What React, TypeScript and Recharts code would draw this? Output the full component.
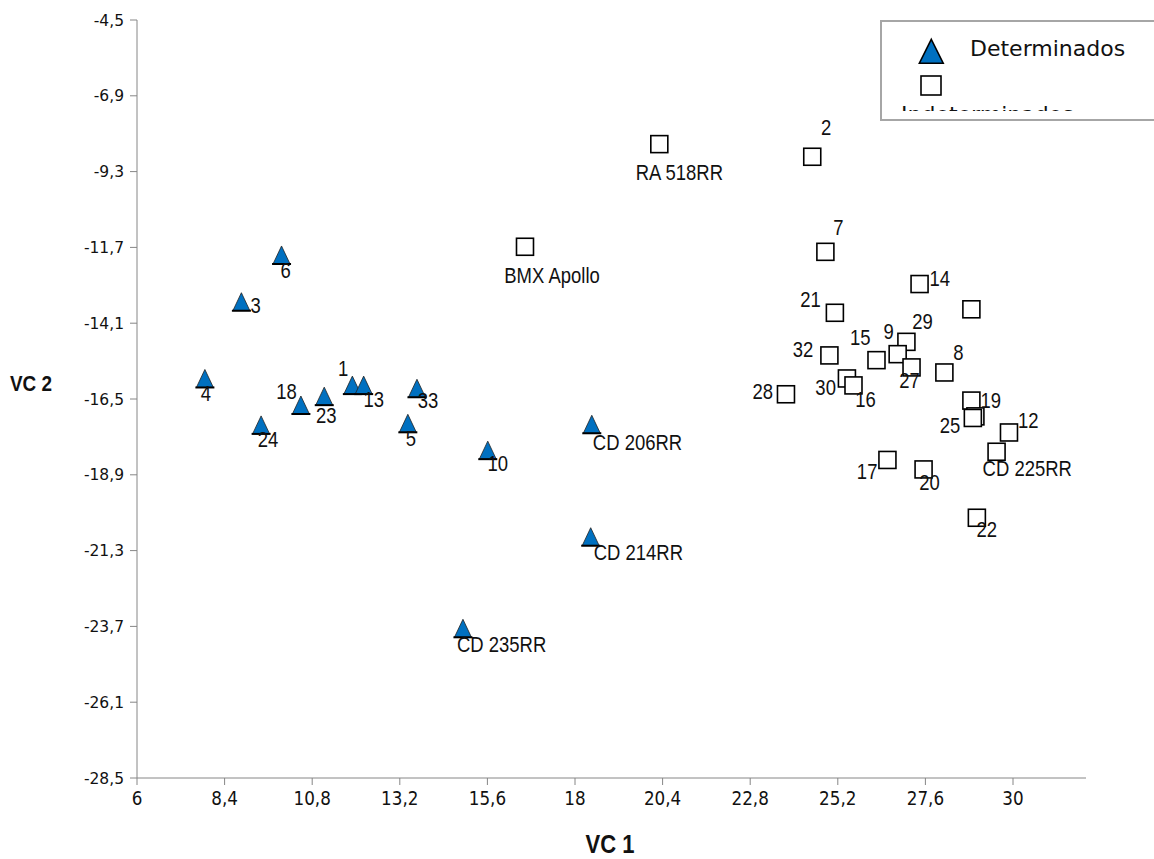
import React from 'react';
import { ScatterChart, Scatter, XAxis, YAxis } from 'recharts';

const xTicks = [6, 8.4, 10.8, 13.2, 15.6, 18, 20.4, 22.8, 25.2, 27.6, 30];
const yTicks = [-28.5, -26.1, -23.7, -21.3, -18.9, -16.5, -14.1, -11.7, -9.3, -6.9, -4.5];

// Determinados (triangles)
const detLabels = ['6', '3', '4', '24', '18', '23', '1', '13', '33', '5', '10', 'CD 206RR', 'CD 214RR', 'CD 235RR'];
const detX = [9.96, 8.86, 7.86, 9.4, 10.49, 11.13, 11.9, 12.21, 13.67, 13.42, 15.61, 18.46, 18.43, 14.93];
const detY = [-11.94, -13.42, -15.85, -17.32, -16.69, -16.41, -16.06, -16.06, -16.16, -17.27, -18.12, -17.3, -20.86, -23.76];

// Indeterminados (squares)
const indLabels = ['RA 518RR', 'BMX Apollo', '2', '7', '14', '', '21', '29', '9', '27', '32', '15', '30', '16', '28', '8', '19', '25', '', '12', 'CD 225RR', '17', '20', '22'];
const indX = [20.31, 16.63, 24.5, 24.86, 27.44, 28.86, 25.12, 27.08, 26.84, 27.22, 24.97, 26.26, 25.45, 25.63, 23.78, 28.12, 28.86, 28.97, 28.9, 29.89, 29.55, 26.56, 27.55, 29.01];
const indY = [-8.43, -11.68, -8.83, -11.84, -12.86, -13.66, -13.77, -14.69, -15.08, -15.5, -15.12, -15.27, -15.85, -16.07, -16.35, -15.66, -16.55, -17.05, -17.1, -17.56, -18.17, -18.43, -18.73, -20.26];

// label placement: [dx, dy (baseline), anchor]
const placement: Record<string, [number, number, string]> = {
  '6': [4, 23, 'middle'],
  '3': [9, 11, 'start'],
  '4': [1, 23, 'middle'],
  '24': [7, 22, 'middle'],
  '18': [-4, -6, 'end'],
  '23': [2, 27, 'middle'],
  '1': [-4, -9, 'end'],
  '13': [10, 22, 'middle'],
  '33': [11, 20, 'middle'],
  '5': [3, 23, 'middle'],
  '10': [10, 21, 'middle'],
  'CD 206RR': [1, 26, 'start'],
  'CD 214RR': [3, 23, 'start'],
  'CD 235RR': [-6, 24, 'start'],
  'RA 518RR': [20, 36, 'middle'],
  'BMX Apollo': [27, 36, 'middle'],
  '2': [14, -22, 'middle'],
  '7': [13, -17, 'middle'],
  '14': [10, 2, 'start'],
  '21': [-14, -6, 'end'],
  '29': [16, -13, 'middle'],
  '9': [-9, -15, 'middle'],
  '27': [-2, 21, 'middle'],
  '32': [-16, 2, 'end'],
  '15': [-6, -15, 'end'],
  '30': [-11, 17, 'end'],
  '16': [12, 22, 'middle'],
  '28': [-13, 5, 'end'],
  '8': [14, -12, 'middle'],
  '19': [9, 7, 'start'],
  '25': [-15, 17, 'end'],
  '12': [9, -4, 'start'],
  'CD 225RR': [-14, 24, 'start'],
  '17': [-10, 19, 'end'],
  '20': [6, 21, 'middle'],
  '22': [10, 19, 'middle'],
};

const detData = detLabels.map((label, i) => ({ label, x: detX[i], y: detY[i] }));
const indData = indLabels.map((label, i) => ({ label, x: indX[i], y: indY[i] }));
const allData = [...detData, ...indData];

const SANS = "'Liberation Sans', Arial, sans-serif";
const DEJAVU = "'DejaVu Sans', Verdana, sans-serif";
const AXIS = '#868686';
const BLUE = '#0070C0';

const fmt = (v: number) => String(v).replace('.', ',');

// condensed text (no narrow font installed, so squeeze horizontally)
const NarrowText = ({ x, y, anchor, size, bold, family, sx, children }: any) => (
  <text
    transform={`translate(${x},${y}) scale(${sx ?? 0.86},1)`}
    textAnchor={anchor}
    fontFamily={family ?? SANS}
    fontSize={size}
    fontWeight={bold ? 'bold' : 'normal'}
    fill="#111"
  >
    {children}
  </text>
);

const TriangleMarker = (props: any) => {
  const { cx, cy } = props;
  const w = 17;
  const h = 18;
  return (
    <g>
      <polygon
        points={`${cx},${cy - h / 2} ${cx + w / 2},${cy + h / 2} ${cx - w / 2},${cy + h / 2}`}
        fill={BLUE}
        stroke="#222"
        strokeWidth={0.8}
      />
      <line x1={cx - w / 2 - 1} x2={cx + w / 2 + 1} y1={cy + h / 2} y2={cy + h / 2} stroke="#000" strokeWidth={2} />
    </g>
  );
};

const SquareMarker = (props: any) => {
  const { cx, cy } = props;
  const s = 17;
  return <rect x={cx - s / 2} y={cy - s / 2} width={s} height={s} fill="#fff" stroke="#000" strokeWidth={1.6} />;
};

const PointLabel = (props: any) => {
  const { cx, cy, payload } = props;
  const p = placement[payload.label];
  if (!p) return <g />;
  return (
    <NarrowText x={cx + p[0]} y={cy + p[1]} anchor={p[2]} size={21.5}>
      {payload.label}
    </NarrowText>
  );
};

const XTick = (props: any) => {
  const { x, y, payload } = props;
  return (
    <NarrowText x={x} y={y + 20} anchor="middle" size={20} family={DEJAVU} sx={0.84}>
      {fmt(payload.value)}
    </NarrowText>
  );
};

const Legend = () => (
  <div
    style={{
      position: 'absolute',
      left: 880,
      top: 20,
      width: 300,
      height: 101,
      border: '2px solid #a6a6a6',
      boxSizing: 'border-box',
      background: '#fff',
    }}
  >
    <svg width={296} height={89} style={{ position: 'absolute', left: 0, top: 0 }}>
      <polygon points="49.3,17.3 61.3,41.3 37.3,41.3" fill={BLUE} stroke="#000" strokeWidth={1.5} />
      <text x={88} y={34} fontFamily={DEJAVU} fontSize={22} fill="#111">
        Determinados
      </text>
      <rect x={39} y={54} width={20} height={19} fill="#fff" stroke="#000" strokeWidth={1.6} />
      <text x={19} y={100} fontFamily={DEJAVU} fontSize={22} fill="#111">
        Indeterminados
      </text>
    </svg>
  </div>
);

export default function App() {
  return (
    <div style={{ position: 'relative', width: 1154, height: 859, background: '#fff' }}>
      <style>{'body{margin:0}'}</style>
      <ScatterChart width={1154} height={859} margin={{ top: 20, right: 68, bottom: 0, left: 0 }}>
        <XAxis
          type="number"
          dataKey="x"
          domain={[6, 32]}
          ticks={xTicks}
          height={81}
          stroke={AXIS}
          tickLine={{ stroke: AXIS }}
          tickSize={7}
          tickMargin={0}
          tick={XTick}
          label={() => (
            <NarrowText x={610} y={853} anchor="middle" size={25} bold sx={0.88}>
              VC 1
            </NarrowText>
          )}
        />
        <YAxis
          type="number"
          dataKey="y"
          domain={[-28.5, -4.5]}
          ticks={yTicks}
          tickFormatter={fmt}
          width={137}
          stroke={AXIS}
          tickLine={{ stroke: AXIS }}
          tickSize={7}
          tickMargin={6}
          tick={{ fill: '#111', fontSize: 15.5, fontFamily: DEJAVU }}
          label={() => (
            <NarrowText x={10} y={391} anchor="start" size={22} bold sx={0.86}>
              VC 2
            </NarrowText>
          )}
        />
        <Scatter name="Indeterminados" data={indData} shape={SquareMarker} isAnimationActive={false} />
        <Scatter name="Determinados" data={detData} shape={TriangleMarker} isAnimationActive={false} />
        <Scatter name="labels" data={allData} shape={PointLabel} isAnimationActive={false} />
      </ScatterChart>
      <Legend />
    </div>
  );
}
